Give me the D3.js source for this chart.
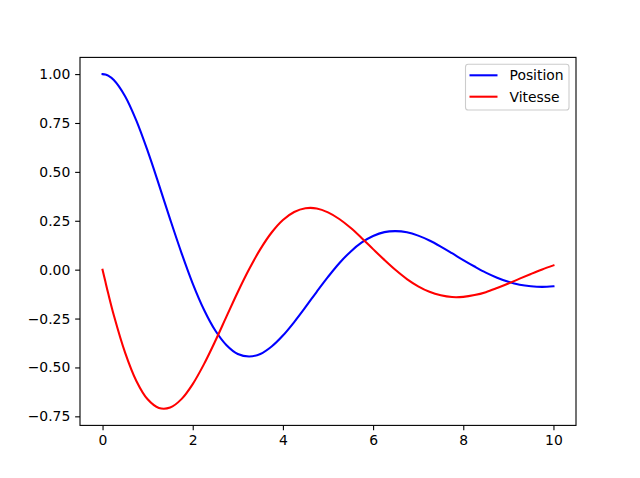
<!DOCTYPE html>
<html>
<head>
<meta charset="utf-8">
<script src="https://cdn.jsdelivr.net/npm/d3@7"></script>
<style>
  html, body { margin: 0; padding: 0; background: #fff; }
  svg { display: block; }
  text { font-family: "DejaVu Sans", sans-serif; }
</style>
</head>
<body>
<svg id="chart" width="640" height="478"></svg>
<script>
// Data
const times = [0, 0.0625, 0.125, 0.25, 0.5, 0.75, 1, 1.25, 1.5, 1.75, 2, 2.25, 2.5, 2.75, 3, 3.25, 3.5, 3.75, 4, 4.25, 4.5, 4.75,
               5, 5.25, 5.5, 5.75, 6, 6.25, 6.5, 6.75, 7, 7.25, 7.5, 7.75, 8, 8.25, 8.5, 8.75, 9, 9.25, 9.5, 9.75, 10];
const position = [1.000, 0.998, 0.992, 0.970, 0.887, 0.762, 0.607, 0.435, 0.257, 0.086, -0.071, -0.205, -0.311, -0.386, -0.431, -0.444,
                  -0.431, -0.393, -0.337, -0.268, -0.192, -0.113, -0.037, 0.033, 0.092, 0.139, 0.172, 0.192, 0.197,
                  0.191, 0.174, 0.149, 0.118, 0.084, 0.049, 0.016, -0.015, -0.041, -0.062, -0.077, -0.085, -0.088, -0.085];
const vitesse = [0.000, -0.061, -0.121, -0.233, -0.424, -0.569, -0.663, -0.707, -0.705, -0.662, -0.585, -0.483, -0.365, -0.239, -0.114,
                 0.002, 0.105, 0.190, 0.254, 0.295, 0.314, 0.313, 0.293, 0.259, 0.214, 0.161, 0.105, 0.050, -0.002,
                 -0.048, -0.085, -0.113, -0.131, -0.140, -0.139, -0.130, -0.115, -0.094, -0.071, -0.046, -0.022, 0.001, 0.022];
const xTicks = [0, 2, 4, 6, 8, 10];
const yTicks = [-0.75, -0.5, -0.25, 0, 0.25, 0.5, 0.75, 1.0];
const seriesNames = ["Position", "Vitesse"];
const seriesColors = ["#0000ff", "#ff0000"];

const svg = d3.select("#chart");
const L = 80, R = 576, T = 57.4, B = 425.4;

const x = d3.scaleLinear().domain([-0.5, 10.5]).range([L, R]);
const yMin = d3.min([...position, ...vitesse]), yMax = d3.max([...position, ...vitesse]);
const pad = (yMax - yMin) * 0.05;
const y = d3.scaleLinear().domain([yMin - pad - 0.004, yMax + pad]).range([B, T]);

const fmtY = v => d3.format(".2f")(v).replace("-", "\u2212");

const series = [position, vitesse];
const line = d3.line()
  .x((d, i) => x(times[i]))
  .y(d => y(d))
  .curve(d3.curveCatmullRom.alpha(0.5));

series.forEach((s, k) => {
  svg.append("path")
    .attr("d", line(s))
    .attr("fill", "none")
    .attr("stroke", seriesColors[k])
    .attr("stroke-width", 2.08)
    .attr("stroke-linejoin", "round")
    .attr("stroke-linecap", "square");
});

// axes
const xAxis = d3.axisBottom(x).tickValues(xTicks).tickFormat(d3.format("d"))
  .tickSizeInner(4.86).tickSizeOuter(0).tickPadding(4.86);
const yAxis = d3.axisLeft(y).tickValues(yTicks).tickFormat(fmtY)
  .tickSizeInner(4.86).tickSizeOuter(0).tickPadding(4.86);

const gx = svg.append("g").attr("transform", `translate(0,${B})`).call(xAxis);
const gy = svg.append("g").attr("transform", `translate(${L},0)`).call(yAxis);
[gx, gy].forEach(a => {
  a.select(".domain").remove();
  a.selectAll(".tick line").attr("stroke", "#000").attr("stroke-width", 1.1);
  a.selectAll(".tick text").attr("fill", "#000").style("font-size", "13.9px")
    .style("font-family", "'DejaVu Sans', sans-serif");
});

// spines
svg.append("rect").attr("x", L).attr("y", T).attr("width", R - L).attr("height", B - T)
  .attr("fill", "none").attr("stroke", "#000").attr("stroke-width", 1.1);

// legend
const lg = svg.append("g");
lg.append("rect").attr("x", 465.5).attr("y", 64.3).attr("width", 103.5).attr("height", 45.7)
  .attr("rx", 2.8).attr("fill", "#fff").attr("fill-opacity", 0.8)
  .attr("stroke", "#cccccc").attr("stroke-width", 1.1);
seriesNames.forEach((n, k) => {
  const yy = 75.3 + k * 21.4;
  lg.append("line").attr("x1", 469.5).attr("x2", 497.5).attr("y1", yy).attr("y2", yy)
    .attr("stroke", seriesColors[k]).attr("stroke-width", 2.08);
  lg.append("text").attr("x", 509.5).attr("y", yy).attr("dy", "0.36em")
    .style("font-size", "13.9px").attr("fill", "#000").text(n);
});
</script>
</body>
</html>
